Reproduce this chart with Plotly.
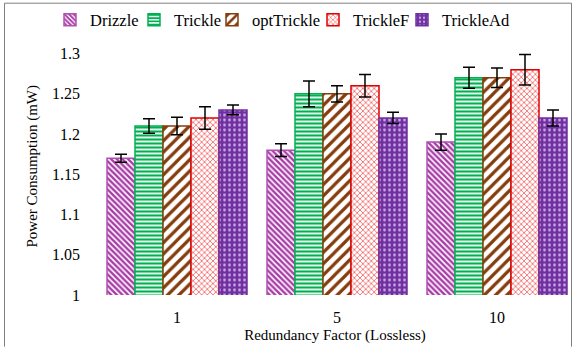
import plotly.graph_objects as go

# Redundancy factors (x categories)
categories = ["1", "5", "10"]

# Mean power consumption (mW) per protocol
drizzle = [1.17, 1.18, 1.19]
trickle = [1.21, 1.25, 1.27]
opt_trickle = [1.21, 1.25, 1.27]
trickle_f = [1.22, 1.26, 1.28]
trickle_ad = [1.23, 1.22, 1.22]

# Error bar half-widths (mW)
drizzle_err = [0.005, 0.008, 0.010]
trickle_err = [0.009, 0.016, 0.013]
opt_trickle_err = [0.011, 0.010, 0.012]
trickle_f_err = [0.014, 0.014, 0.019]
trickle_ad_err = [0.006, 0.007, 0.010]

y_ticks = [1, 1.05, 1.1, 1.15, 1.2, 1.25, 1.3]

# Left edge (px) of each legend entry's text, one legend box per series
legend_text_left = [86, 170, 248, 349, 438]

series = [
    ("Drizzle", drizzle, drizzle_err,
     dict(shape="\\", fgcolor="#A83CA8", bgcolor="white", size=4, solidity=0.6), "#B050B0"),
    ("Trickle", trickle, trickle_err,
     dict(shape="-", fgcolor="#00B050", bgcolor="white", size=4, solidity=0.55), "#00B050"),
    ("optTrickle", opt_trickle, opt_trickle_err,
     dict(shape="/", fgcolor="#843C0C", bgcolor="white", size=8, solidity=0.4), "#843C0C"),
    ("TrickleF", trickle_f, trickle_f_err,
     dict(shape="x", fgcolor="#F03838", bgcolor="white", size=4, solidity=0.3), "#E00000"),
    ("TrickleAd", trickle_ad, trickle_ad_err,
     dict(shape=".", fgcolor="#C9A8E6", bgcolor="#7030A0", size=5, solidity=0.25), "#7030A0"),
]

serif = "Liberation Serif"
TICK_FS = 16
TITLE_FS = 15
LEGEND_FS = 16.5
W, H = 573, 347
ML, MR, MT, MB = 97, 0, 36, 52
pw = W - ML - MR
ph = H - MT - MB

fig = go.Figure()
legend_layouts = {}
for i, (name, vals, errs, pattern, line_color) in enumerate(series):
    legend_id = "legend" if i == 0 else f"legend{i + 1}"
    fig.add_trace(go.Bar(
        name=name,
        x=categories,
        y=vals,
        base=0,
        legend=legend_id,
        marker=dict(color=pattern["bgcolor"],
                    pattern=dict(fillmode="replace", fgopacity=1, **pattern),
                    line=dict(color=line_color, width=1.5)),
        error_y=dict(type="data", array=errs, visible=True,
                     color="black", thickness=1.5, width=6),
    ))
    legend_layouts[legend_id] = dict(
        orientation="h", xref="container", yref="container",
        x=(legend_text_left[i] - 36) / W, xanchor="left",
        y=1 - 20 / H, yanchor="middle",
        font=dict(family=serif, size=LEGEND_FS), itemwidth=30,
        bgcolor="rgba(0,0,0,0)", borderwidth=0,
    )

fig.update_layout(
    width=W, height=H,
    margin=dict(l=ML, r=MR, t=MT, b=MB, pad=0),
    paper_bgcolor="white",
    plot_bgcolor="white",
    barmode="group",
    bargap=0.125,
    bargroupgap=0,
    font=dict(family=serif, size=TICK_FS, color="black"),
    showlegend=True,
    xaxis=dict(type="category", range=[-0.5, 2.475], showline=False, showgrid=False,
               ticks="", tickfont=dict(family=serif, size=TICK_FS), ticklabelstandoff=11,
               title=dict(text="Redundancy Factor (Lossless)",
                          font=dict(family=serif, size=TITLE_FS), standoff=4)),
    yaxis=dict(range=[1, 1.32], tickvals=y_ticks,
               ticktext=["1", "1.05", "1.1", "1.15", "1.2", "1.25", "1.3"],
               showline=False, showgrid=False, zeroline=False, ticks="",
               ticklabelstandoff=16, tickfont=dict(family=serif, size=TICK_FS),
               title=dict(text="Power Consumption (mW)",
                          font=dict(family=serif, size=TITLE_FS), standoff=10)),
    **legend_layouts,
)

# Frame around the chart (left, top and right edges)
def px_to_paper_x(px):
    return (px - ML) / pw

def px_to_paper_y(py):
    return (H - MB - py) / ph

frame = dict(color="#7F7F7F", width=1)
x_left, x_right = px_to_paper_x(4.5), px_to_paper_x(571.5)
y_top, y_bot = px_to_paper_y(1.5), px_to_paper_y(347)
for x0, y0, x1, y1 in [(x_left, y_bot, x_left, y_top),
                       (x_left, y_top, x_right, y_top),
                       (x_right, y_top, x_right, y_bot)]:
    fig.add_shape(type="line", xref="paper", yref="paper",
                  x0=x0, y0=y0, x1=x1, y1=y1, line=frame, layer="above")

fig.write_html("out.html")
